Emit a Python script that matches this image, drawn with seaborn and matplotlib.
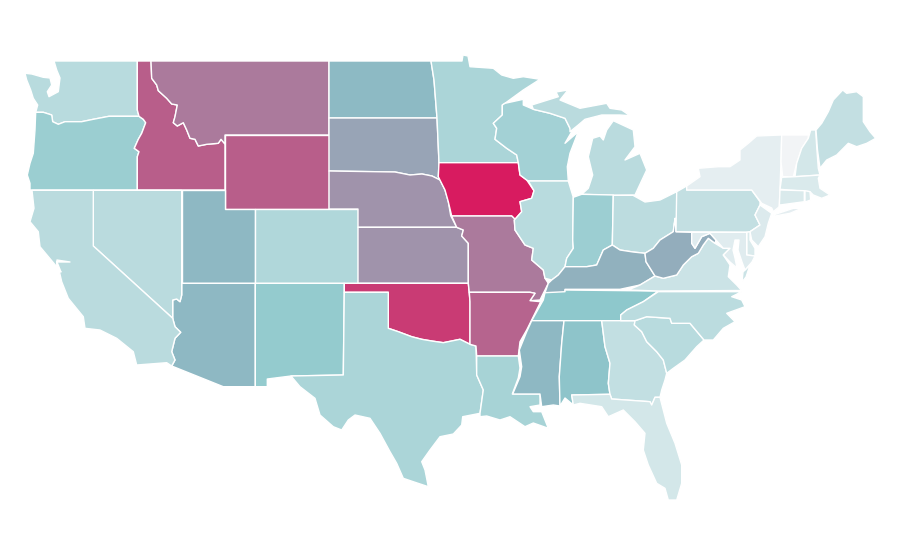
import matplotlib
matplotlib.use("Agg")
import matplotlib.pyplot as plt
import pandas as pd
import seaborn as sns
from matplotlib.collections import PolyCollection
from matplotlib.colors import Normalize

# values, 0-100 scale
states = ["WA", "OR", "CA", "NV", "ID", "MT", "WY", "UT", "AZ", "CO", "NM", "ND", "SD", "NE", "KS",
          "OK", "TX", "MN", "IA", "MO", "AR", "LA", "WI", "IL", "MI", "IN", "OH", "KY", "TN", "MS",
          "AL", "GA", "FL", "SC", "NC", "VA", "WV", "PA", "NY", "VT", "NH", "ME", "MA", "CT", "RI",
          "NJ", "DE", "MD"]
rates = [29, 43.5, 28.5, 28.5, 80.5, 73, 80.5, 55.3, 55.3, 33, 47, 55, 61.5, 66, 66,
         91, 35.5, 35.5, 100, 73, 79, 38, 39.5, 29, 28.5, 43, 27.5, 57.5, 50, 55.3,
         51.4, 24.5, 15.5, 29, 28, 19.5, 58.7, 24, 7, 0, 15.5, 24, 12, 12, 12,
         11.5, 12, 9]

outlines = {
    "WA": [(54, 61), (137.3, 61), (137.3, 110), (139, 116.3), (109, 116.3), (93.3, 119.3), (81.7, 121.7), (65, 121.7),
           (58.3, 124.3), (52.7, 121.7), (51.7, 115), (43.3, 112.3), (35.7, 112.3), (37.7, 105), (33.3, 98.3),
           (30.7, 90), (26.7, 80), (25, 73.3), (31.7, 74), (43.3, 77.3), (50, 78), (51.7, 85), (47.3, 91.7),
           (49, 96.7), (58.3, 91.7), (60, 78), (56.7, 70)],
    "OR": [(35.7, 112.3), (43.3, 112.3), (51.7, 115), (52.7, 121.7), (58.3, 124.3), (65, 121.7), (81.7, 121.7),
           (93.3, 119.3), (109, 116.3), (139, 116.3), (143.3, 119.3), (145.7, 122.7), (141.7, 133.3), (138.3, 139.3),
           (134.3, 148.3), (139, 151.7), (137.3, 156.7), (137.3, 190), (30, 190), (30, 183.3), (27.3, 175),
           (30, 163.3), (33.3, 153.3), (35, 130)],
    "ID": [(137.3, 61), (151, 61), (151.7, 78.3), (156.7, 85), (158.3, 90.7), (166.7, 98.3), (171.7, 104), (177.3, 105),
           (175, 116.7), (173.3, 122.7), (177.3, 126), (183.3, 122.7), (186.7, 130), (190, 138.3), (195, 139.3),
           (198.3, 146), (206.7, 144.3), (218.3, 143.3), (221, 139.3), (225, 144), (225, 190), (137.3, 190),
           (137.3, 156.7), (139, 151.7), (134.3, 148.3), (138.3, 139.3), (141.7, 133.3), (145.7, 122.7),
           (143.3, 119.3), (139, 116.3), (137.3, 110)],
    "MT": [(151, 61), (329, 61), (329, 135), (225, 135), (225, 144), (221, 139.3), (218.3, 143.3), (206.7, 144.3),
           (198.3, 146), (195, 139.3), (190, 138.3), (186.7, 130), (183.3, 122.7), (177.3, 126), (173.3, 122.7),
           (175, 116.7), (177.3, 105), (171.7, 104), (166.7, 98.3), (158.3, 90.7), (156.7, 85), (151.7, 78.3)],
    "WY": [(225, 135), (329, 135), (329, 209), (225, 209)],
    "UT": [(181.7, 190), (225, 190), (225, 209), (255, 209), (255, 283.3), (181.7, 283.3)],
    "CO": [(255, 209), (358, 209), (358, 283.3), (255, 283.3)],
    "AZ": [(181.7, 283.3), (255.3, 283.3), (255.3, 386.7), (223.3, 386.7), (171.7, 366), (175, 360), (171.7, 351.7),
           (175, 338.3), (180.7, 332.3), (175, 326.7), (172.7, 318.3), (172.7, 300), (176.7, 299), (180, 301.7),
           (181.7, 295)],
    "NM": [(255.3, 283.3), (344.3, 283.3), (343.3, 375), (291, 376), (267.3, 379), (267.3, 386.7), (255.3, 386.7)],
    "NV": [(93.3, 190.3), (181.7, 190.3), (181.7, 295), (180, 301.7), (176.7, 299), (172.7, 300), (172.7, 318.3),
           (93.3, 246)],
    "CA": [(32, 190.3), (93.3, 190.3), (93.3, 246), (172.7, 318.3), (175, 326.7), (180.7, 332.3), (175, 338.3),
           (171.7, 351.7), (175, 360), (171.7, 366), (166.7, 362.7), (136.7, 365), (133.3, 351.7), (116.7, 338.3),
           (100, 330), (85, 328.3), (83.3, 316.7), (68.3, 298.3), (61.7, 281.7), (59, 270), (61, 272), (57, 262),
           (70, 262), (57, 260), (56.7, 266.7), (40, 246.7), (38.3, 231.7), (30, 221.7), (34, 208.3)],
    "ND": [(329, 61), (431, 61), (434, 80), (437, 118), (329, 118)],
    "SD": [(329, 118), (437, 118), (439, 162.7), (438.3, 176.7), (440, 180), (432, 176), (422, 174), (410, 175),
           (395, 172), (329, 171)],
    "NE": [(329, 171), (395, 172), (410, 175), (422, 174), (432, 176), (440, 180), (445, 190), (448.3, 201.7),
           (450.7, 215.7), (456.7, 227.3), (358, 227.3), (358, 209), (329, 209)],
    "KS": [(358, 227.3), (456.7, 227.3), (463.3, 230), (461.7, 236), (468.3, 243.3), (468.3, 283.3), (358, 283.3)],
    "OK": [(344.3, 283.3), (468.3, 283.3), (470, 301.7), (470, 344.3), (460, 339.3), (443.3, 342.7), (431.7, 341),
           (421.7, 339.3), (411.7, 336.7), (398.3, 331.7), (388.3, 328.3), (388.3, 292.3), (344.3, 292.3)],
    "TX": [(344.3, 292.3), (388.3, 292.3), (388.3, 328.3), (398.3, 331.7), (411.7, 336.7), (421.7, 339.3), (431.7, 341),
           (443.3, 342.7), (460, 339.3), (470, 344.3), (476, 346), (476.7, 375), (483.3, 390), (480, 413.3),
           (462.7, 416.7), (461.7, 425), (453.3, 434), (440, 436.7), (430, 450), (421.7, 461.7), (425, 470),
           (428.3, 486.7), (413.3, 481.7), (403.3, 478.3), (396.7, 463.3), (390, 451.7), (380, 433.3), (370, 418.3),
           (355, 415), (348.3, 420), (341.7, 430), (333.3, 426.7), (320, 415), (315, 398.3), (300, 386.7), (291, 376),
           (343.3, 375)],
    "MN": [(431, 61), (462, 61), (463, 55), (468, 56), (470, 66.7), (493.3, 68.3), (501.7, 75), (513.3, 78.3),
           (523.3, 76.7), (540, 79.3), (523.3, 90), (505, 103.3), (502.3, 105), (502.3, 115), (493.3, 123.3),
           (496.7, 128.3), (495, 139.3), (506.7, 148.3), (516.7, 155), (518.3, 162.7), (439, 162.7), (437, 118),
           (434, 80)],
    "IA": [(439, 162.7), (518.3, 162.7), (520, 175), (526.7, 180), (534, 190.7), (531.7, 198.3), (520, 201.7),
           (521.7, 211.7), (515, 219.3), (511.7, 216), (451.7, 216), (448.3, 201.7), (445, 190), (438.3, 176.7)],
    "MO": [(451.7, 216), (511.7, 216), (515, 219.3), (514.3, 220), (515, 230), (525, 245), (533.3, 248.3), (531.7, 260),
           (543.3, 270), (545, 278.3), (548.3, 283.3), (545, 290), (543.3, 293.3), (540, 300), (530, 300.7), (535, 293.3),
           (530, 292.3), (469.3, 292.3), (468.3, 283.3), (468.3, 243.3), (461.7, 236), (463.3, 230), (456.7, 227.3)],
    "AR": [(469.3, 292.3), (530, 292.3), (535, 293.3), (530, 300.7), (540.7, 301.7), (533.3, 316.7), (526.7, 330),
           (520, 341.7), (518.3, 356), (476.7, 356), (476, 346), (470, 344.3), (470, 301.7)],
    "LA": [(476.7, 356), (518.3, 356), (520, 368), (518.3, 378), (512.3, 394), (540, 394), (540, 405), (530, 406.7),
           (533.3, 411.7), (541.7, 411.7), (548.3, 428.3), (533.3, 423), (525, 426.7), (510, 416.7), (500, 420),
           (486.7, 416), (480, 416.7), (480, 413.3), (483.3, 390), (476.7, 375)],
    "WI": [(505, 103.3), (523.3, 99.3), (523.3, 105), (533.3, 109.3), (550, 113.3), (565, 118.3), (570, 128.3),
           (571.7, 131.7), (565, 143.3), (578.3, 131.7), (570, 153.3), (567.3, 166.7), (568.3, 181), (528.3, 181),
           (526.7, 180), (520, 175), (518.3, 162.7), (516.7, 155), (506.7, 148.3), (495, 139.3), (496.7, 128.3),
           (493.3, 123.3), (502.3, 115), (502.3, 105)],
    "IL": [(528.3, 181), (568.3, 181), (573.3, 197.3), (572.7, 240), (573.3, 248.3), (566.7, 258.3), (565, 266.7),
           (558.3, 275), (551.7, 280), (545, 278.3), (543.3, 270), (531.7, 260), (533.3, 248.3), (525, 245), (515, 230),
           (514.3, 220), (515, 219.3), (521.7, 211.7), (520, 201.7), (531.7, 198.3), (534, 190.7)],
    "MI_upper": [(531.7, 105), (558.3, 96.7), (556, 92), (568, 90), (560, 100), (580, 108.3), (606.7, 103.3), (610, 108.3),
                 (621.7, 110), (630, 115.7), (620, 115), (601.7, 115), (585, 119.3), (578.3, 125), (570, 131.7),
                 (570, 128.3), (565, 118.3), (550, 113.3), (533.3, 109.3)],
    "MI_lower": [(613.3, 120.7), (633.3, 130), (635, 146.7), (625, 160), (640, 153.3), (646.7, 170), (635, 195),
                 (613.3, 195.3), (581.7, 194.3), (588.3, 188.3), (592.7, 175), (588.3, 156.7), (592.7, 138.3), (600, 136),
                 (603.3, 140), (606.7, 130)],
    "IN": [(573.3, 197.3), (581.7, 194.3), (613.3, 195), (612.3, 245), (603.3, 250), (596.7, 265), (586.7, 266.7),
           (573.3, 266.7), (565, 266.7), (566.7, 258.3), (573.3, 248.3), (572.7, 240)],
    "OH": [(613.3, 195.3), (633, 195.3), (645, 202), (660, 200), (676.7, 191.7), (676.7, 216.7), (674.3, 223.3),
           (673.3, 231.7), (660, 240), (653.3, 248.3), (645, 253.3), (633, 252), (620, 250), (612.3, 245)],
    "KY": [(612.3, 245), (620, 250), (633, 252), (645, 253.3), (646, 261.7), (655, 276), (640, 285), (620, 289.3),
           (565, 289.3), (565, 292.7), (545, 292.7), (548.3, 283.3), (551.7, 280), (558.3, 275), (565, 266.7),
           (573.3, 266.7), (586.7, 266.7), (596.7, 265), (603.3, 250)],
    "TN": [(545, 292.7), (565, 291.7), (565, 290), (658.3, 291), (643.3, 301.7), (626.7, 310), (620.7, 315), (620.7, 320.7),
           (531.7, 320.7), (536.7, 311.7), (543.3, 300)],
    "MS": [(531.7, 320.7), (564, 320.7), (561.7, 343.3), (559.3, 376.7), (560, 406), (553.3, 405), (541.7, 406.7),
           (540, 394), (512.7, 394), (520, 376.7), (521.7, 366.7), (519.3, 350), (526.7, 331.7)],
    "AL": [(564, 320.7), (601.7, 320.7), (605, 346.7), (610, 363.3), (608.3, 383.3), (610, 394.3), (571.7, 395),
           (573.3, 405), (565, 398), (560, 406), (559.3, 376.7), (561.7, 343.3)],
    "GA": [(601.7, 320.7), (635, 320.7), (634.3, 325), (641.7, 331.7), (646.7, 341.7), (656.7, 351.7), (663.3, 360),
           (666.7, 373.3), (665, 380), (661.7, 390), (660, 397.3), (655, 397.3), (651.7, 405), (650, 401.7), (611.7, 399),
           (610, 394.3), (608.3, 383.3), (610, 363.3), (605, 346.7)],
    "FL": [(571.7, 395), (610, 394.3), (611.7, 399), (650, 401.7), (651.7, 405), (655, 397.3), (660, 397.3), (666.7, 423.3),
           (675, 443.3), (681.7, 465), (681.7, 483.3), (676.7, 500), (668.3, 500), (665, 488.3), (656.7, 483.3),
           (648.3, 465), (643.3, 450), (645, 433.3), (635, 421.7), (623.3, 410), (608.3, 416.7), (601.7, 406.7),
           (580, 403.3), (573.3, 405)],
    "SC": [(635, 320.7), (646.7, 316.7), (670, 318.3), (671.7, 323.3), (690, 323.3), (704, 340), (696.7, 346.7),
           (685, 360), (673.3, 368.3), (666.7, 373.3), (663.3, 360), (656.7, 351.7), (646.7, 341.7), (641.7, 331.7),
           (634.3, 325)],
    "NC": [(658.3, 291.7), (741.7, 291.7), (731.7, 296.7), (741.7, 300), (745, 306.7), (726.7, 313.3), (735, 321.7),
           (723.3, 328.3), (713.3, 340), (704, 340), (690, 323.3), (671.7, 323.3), (670, 318.3), (646.7, 316.7),
           (635, 320.7), (620.7, 320.7), (620.7, 315), (626.7, 310), (643.3, 301.7)],
    "VA": [(628, 290), (640, 285), (655, 276), (663.3, 278.3), (676.7, 275), (683.3, 265), (691.7, 256.7), (698.3, 253.3),
           (703.3, 245), (708.3, 238.3), (715, 243.3), (723.3, 248.3), (730, 248.3), (723.3, 255), (730, 265),
           (728.3, 276.7), (736.7, 285), (741.7, 290.5), (658.3, 291)],
    "VA_shore": [(750, 265), (746, 277), (742, 282), (743, 272)],
    "WV": [(675, 218.3), (676, 231.7), (691.7, 232.3), (691.7, 243.3), (695, 248.3), (701.7, 236.7), (710, 233.3),
           (716, 240), (715, 243.3), (708.3, 238.3), (703.3, 245), (698.3, 253.3), (691.7, 256.7), (683.3, 265),
           (676.7, 275), (663.3, 278.3), (655, 276), (646, 261.7), (645, 253.3), (653.3, 248.3), (660, 240),
           (673.3, 231.7), (674.3, 223.3)],
    "PA": [(676.7, 191.7), (686.7, 186), (686.7, 190), (751.7, 190), (760, 201.7), (760, 205), (755, 215), (760, 225),
           (750, 231.7), (746.7, 232.3), (676, 231.7)],
    "NY": [(686.7, 190), (686.7, 186), (700, 176.7), (698.3, 168.3), (718.3, 166.7), (730, 166.7), (740, 160), (740, 150),
           (748.3, 143.3), (756.7, 136), (781.7, 135), (781, 161.7), (780, 188.3), (779.3, 206.7), (773.3, 211.7),
           (771.7, 208), (761.7, 203.3), (751.7, 190)],
    "NY_long": [(773.3, 215), (793.3, 208.3), (801.7, 208.3), (790, 213.3), (775, 216)],
    "VT": [(781.7, 135), (808.3, 135), (808.3, 138.3), (801.7, 148.3), (796.7, 163.3), (793.3, 176.7), (782.7, 176.7),
           (781, 161.7)],
    "NH": [(810.7, 130), (815.7, 130), (816.7, 146.7), (818.3, 168.3), (820, 175), (795, 176.7), (796.7, 163.3),
           (801.7, 148.3), (808.3, 138.3)],
    "ME": [(816, 130), (821.7, 123.3), (828.3, 111.7), (833.3, 100), (842.7, 90), (846.7, 93.3), (856.7, 91.7),
           (863.3, 96.7), (863.3, 121.7), (870, 131.7), (875.7, 138.3), (866.7, 143.3), (856.7, 146.7), (848.3, 143.3),
           (836.7, 155), (826.7, 160), (820, 168.3), (817.5, 150)],
    "MA": [(781.7, 177.3), (795, 176.7), (820, 175), (818.3, 178.3), (820, 188.3), (830, 195), (821.7, 198.3), (813.3, 195),
           (810, 191.7), (780, 189.3)],
    "CT": [(780, 190), (804.3, 190.7), (804.3, 201.7), (780, 205), (779.3, 206.7)],
    "RI": [(805, 190.7), (810, 191.7), (810.7, 200), (805, 202)],
    "NJ": [(760, 205), (771.7, 213.3), (768.3, 223.3), (765, 236.7), (758.3, 246.7), (751.7, 240), (750, 231.7), (760, 225),
           (755, 215)],
    "DE": [(746.7, 232.3), (750, 231.7), (750, 240), (755, 248.3), (755, 256), (746.7, 255)],
    "MD": [(691.7, 232.3), (746.7, 232.3), (746.7, 255), (755, 256), (752, 262), (745, 270), (742, 262), (738, 250),
           (739, 240), (735, 240), (733, 250), (735, 258), (737, 268), (730, 262), (723.3, 255), (730, 248.3),
           (723.3, 248.3), (716, 240), (710, 233.3), (701.7, 236.7), (695, 248.3), (691.7, 243.3)],
}

sns.set_theme(style="white")

df = pd.DataFrame({"state": states, "rate": rates}).set_index("state")

# light grey -> teal -> crimson
cmap = sns.blend_palette(["#f2f4f6", "#8ec8cc", "#8dbac4", "#d81b60"], n_colors=256, as_cmap=True)
# blend_palette spaces the colours evenly, so squeeze the scale to match
def scale(v):
    if v <= 50:
        return v / 50 * (1 / 3)
    if v <= 55:
        return 1 / 3 + (v - 50) / 5 * (1 / 3)
    return 2 / 3 + (v - 55) / 45 * (1 / 3)

names = list(outlines.keys())
polys = [outlines[n] for n in names]
vals = [scale(df.loc[n.split("_")[0], "rate"]) for n in names]

fig = plt.figure(figsize=(9, 5.6), dpi=100)
ax = fig.add_axes([0, 0, 1, 1])
pc = PolyCollection(polys, array=vals, cmap=cmap, norm=Normalize(0, 1), edgecolors="white", linewidths=1)
ax.add_collection(pc)
ax.set_xlim(0, 900)
ax.set_ylim(560, 0)
ax.axis("off")

fig.savefig("out.png", dpi=100, facecolor="white")
plt.close(fig)
